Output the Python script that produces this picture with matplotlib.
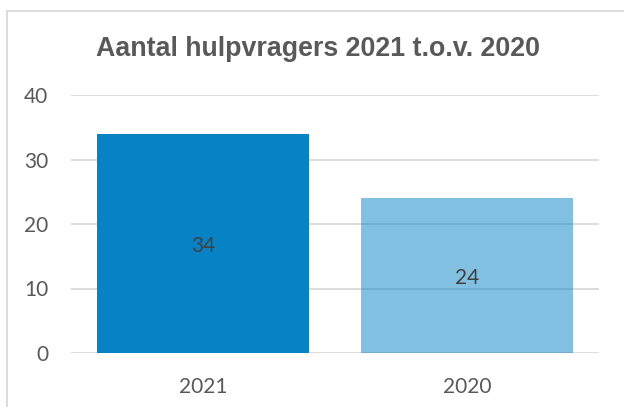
import matplotlib
matplotlib.use("Agg")
import matplotlib.pyplot as plt
from matplotlib.patches import Rectangle

categories = ["2021", "2020"]
values = [34, 24]
yticks = [0, 10, 20, 30, 40]
title = "Aantal hulpvragers 2021 t.o.v. 2020"

W, H = 624, 407
fig = plt.figure(figsize=(W / 100, H / 100), dpi=100)
fig.patch.set_facecolor("white")

# chart border (cropped at right and bottom)
fig.add_artist(Rectangle((7 / W, -0.1), 1.2, 1.1 - 11 / H,
                         transform=fig.transFigure, fill=False,
                         edgecolor="#D9D9D9", linewidth=1.3))

ax = fig.add_axes([71 / W, 1 - 353 / H, (599 - 71) / W, (353 - 95) / H])
ax.set_xlim(-0.5, 1.5)
ax.set_ylim(0, 40)

ax.set_axisbelow(True)
ax.yaxis.grid(True, color="#D9D9D9", linewidth=1.3)
for s in ax.spines.values():
    s.set_visible(False)

base = "#0782C5"
bars = ax.bar([0, 1], values, width=0.803, color=[base, base], zorder=2)
bars[1].set_alpha(0.5)

for i, v in enumerate(values):
    ax.annotate(str(v), (i, v / 2), xytext=(0, -2), textcoords="offset points",
                ha="center", va="center", fontsize=15,
                family="Lato", color="#404040", zorder=3)

ax.set_xticks([0, 1])
ax.set_xticklabels(categories)
ax.set_yticks(yticks)
ax.tick_params(length=0, labelsize=15, labelcolor="#595959")
ax.tick_params(axis="x", pad=17)
ax.tick_params(axis="y", pad=16.5)
for lab in ax.get_xticklabels() + ax.get_yticklabels():
    lab.set_family("Lato")

fig.text(318 / W, 1 - 49 / H, title, ha="center", va="center",
         fontsize=19.3, fontweight="bold", family="Liberation Sans",
         color="#595959")

fig.savefig("out.png", dpi=100)
